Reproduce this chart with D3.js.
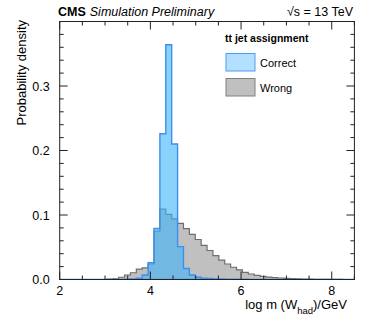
<!DOCTYPE html>
<html>
<head>
<meta charset="utf-8">
<script src="https://cdn.jsdelivr.net/npm/d3@7"></script>
<style>
  body { margin: 0; background: #fff; }
  text { font-family: "Liberation Sans", Arial, sans-serif; fill: #000; }
</style>
</head>
<body>
<div id="chart"></div>
<script>
// histogram binning: 50 bins from 2 to 8.5
const binStart = 2, binEnd = 8.5, nBins = 50;

// probability density per bin
const correct = [0,0,0,0,0,0,0,0,0,0,
                 0,0.0005,0.001,0.002,0.007,0.026,0.079,0.226,0.364,0.21,
                 0.051,0.017,0.007,0.0035,0.002,0.0015,0.001,0.0008,0.0006,0.0005,
                 0.0004,0.0003,0.0002,0.0002,0.0001,0.0001,0,0,0,0,
                 0,0,0,0,0,0,0,0,0,0];
const wrong = [0,0,0,0,0,0,0,0,0.0005,0.001,
               0.0035,0.007,0.0105,0.016,0.018,0.024,0.075,0.109,0.101,0.094,
               0.087,0.079,0.07,0.062,0.053,0.045,0.037,0.03,0.024,0.019,
               0.015,0.011,0.0085,0.0065,0.005,0.0038,0.003,0.0023,0.0018,0.0014,
               0.001,0.0008,0.0006,0.0004,0.0003,0.0002,0.0001,0.0001,0,0];

const xTicks = [2, 4, 6, 8];
const yTicks = [0, 0.1, 0.2, 0.3];
const legendItems = ["Correct", "Wrong"];

const W = 374, H = 322;
const margin = {left: 59.7, right: 19.6, top: 21.5, bottom: 42.5};
const pw = W - margin.left - margin.right,
      ph = H - margin.top - margin.bottom;

const x = d3.scaleLinear().domain([binStart, binEnd]).range([0, pw]);
const y = d3.scaleLinear().domain([0, 0.4]).range([ph, 0]);
const binW = (binEnd - binStart) / nBins;

const svg = d3.select("#chart").append("svg")
  .attr("width", W).attr("height", H);

svg.append("defs").append("clipPath").attr("id", "clip")
  .append("rect").attr("width", pw).attr("height", ph);

const g = svg.append("g")
  .attr("transform", `translate(${margin.left},${margin.top})`);

// turn bin contents into step outline points
function steps(vals) {
  let pts = [[binStart, 0]];
  vals.forEach((v, i) => {
    pts.push([binStart + i*binW, v]);
    pts.push([binStart + (i+1)*binW, v]);
  });
  pts.push([binEnd, 0]);
  return pts;
}
const line = d3.line().x(d => x(d[0])).y(d => y(d[1]));

const plot = g.append("g").attr("clip-path", "url(#clip)");

plot.append("path")
  .attr("d", line(steps(wrong)) + "Z")
  .attr("fill", "#c0c0c0")
  .attr("stroke", "#6e6e6e")
  .attr("stroke-width", 1.2);

plot.append("path")
  .attr("d", line(steps(correct)) + "Z")
  .attr("fill", "rgba(60,180,250,0.6)")
  .attr("stroke", "#3b8ff0")
  .attr("stroke-width", 1.4);

// frame
g.append("rect")
  .attr("width", pw).attr("height", ph)
  .attr("fill", "none").attr("stroke", "#222").attr("stroke-width", 1);

// ticks on all four sides, pointing inwards
const xMinor = d3.range(2, 8.51, 0.5);
const yMinor = d3.range(0, 0.401, 0.02);
const tickG = g.append("g").attr("stroke", "#222").attr("stroke-width", 1);
xMinor.forEach(v => {
  const len = xTicks.some(t => Math.abs(t - v) < 1e-6) ? 8 : 4;
  tickG.append("line").attr("x1", x(v)).attr("x2", x(v)).attr("y1", ph).attr("y2", ph - len);
  tickG.append("line").attr("x1", x(v)).attr("x2", x(v)).attr("y1", 0).attr("y2", len);
});
yMinor.forEach(v => {
  const len = yTicks.some(t => Math.abs(t - v) < 1e-6) ? 8 : 4;
  tickG.append("line").attr("y1", y(v)).attr("y2", y(v)).attr("x1", 0).attr("x2", len);
  tickG.append("line").attr("y1", y(v)).attr("y2", y(v)).attr("x1", pw).attr("x2", pw - len);
});

// tick labels
g.selectAll("text.xl").data(xTicks).join("text")
  .attr("class", "xl")
  .attr("x", d => x(d)).attr("y", ph + 15)
  .attr("text-anchor", "middle")
  .style("font-size", "12.5px")
  .text(d => d);

g.selectAll("text.yl").data(yTicks).join("text")
  .attr("class", "yl")
  .attr("x", -10).attr("y", d => y(d) + 4.5)
  .attr("text-anchor", "end")
  .style("font-size", "12.5px")
  .text(d => d3.format(".1f")(d));

// axis titles
const xt = svg.append("text")
  .attr("x", 347).attr("y", 308.5)
  .attr("text-anchor", "end")
  .style("font-size", "13px");
xt.append("tspan").text("log m (W");
xt.append("tspan").attr("dy", 5.5).style("font-size", "9.5px").text("had");
xt.append("tspan").attr("dy", -5.5).text(")/GeV");

svg.append("text")
  .attr("transform", "translate(26,20) rotate(-90)")
  .attr("text-anchor", "end")
  .style("font-size", "13px")
  .text("Probability density");

// header
const hd = svg.append("text").attr("x", 58).attr("y", 15.5).style("font-size", "12.5px");
hd.append("tspan").style("font-weight", "bold").text("CMS");
hd.append("tspan").style("font-style", "italic").attr("dx", 4).text("Simulation Preliminary");

svg.append("text")
  .attr("x", 353).attr("y", 15.5)
  .attr("text-anchor", "end")
  .style("font-size", "12.5px")
  .text("\u221As = 13 TeV");

// legend
svg.append("text")
  .attr("x", 225).attr("y", 41.5)
  .style("font-size", "10.5px").style("font-weight", "bold")
  .text("tt jet assignment");

const legFill = ["#b3e0ff", "#c0c0c0"], legStroke = ["#4d9ef0", "#808080"];
const leg = svg.selectAll("g.legend").data(legendItems).join("g")
  .attr("class", "legend")
  .attr("transform", (d, i) => `translate(226,${53.5 + i*25})`);
leg.append("rect")
  .attr("width", 29).attr("height", 17.5)
  .attr("fill", (d, i) => legFill[i])
  .attr("stroke", (d, i) => legStroke[i])
  .attr("stroke-width", 1);
leg.append("text")
  .attr("x", 34).attr("y", 13)
  .style("font-size", "11px")
  .text(d => d);
</script>
</body>
</html>
